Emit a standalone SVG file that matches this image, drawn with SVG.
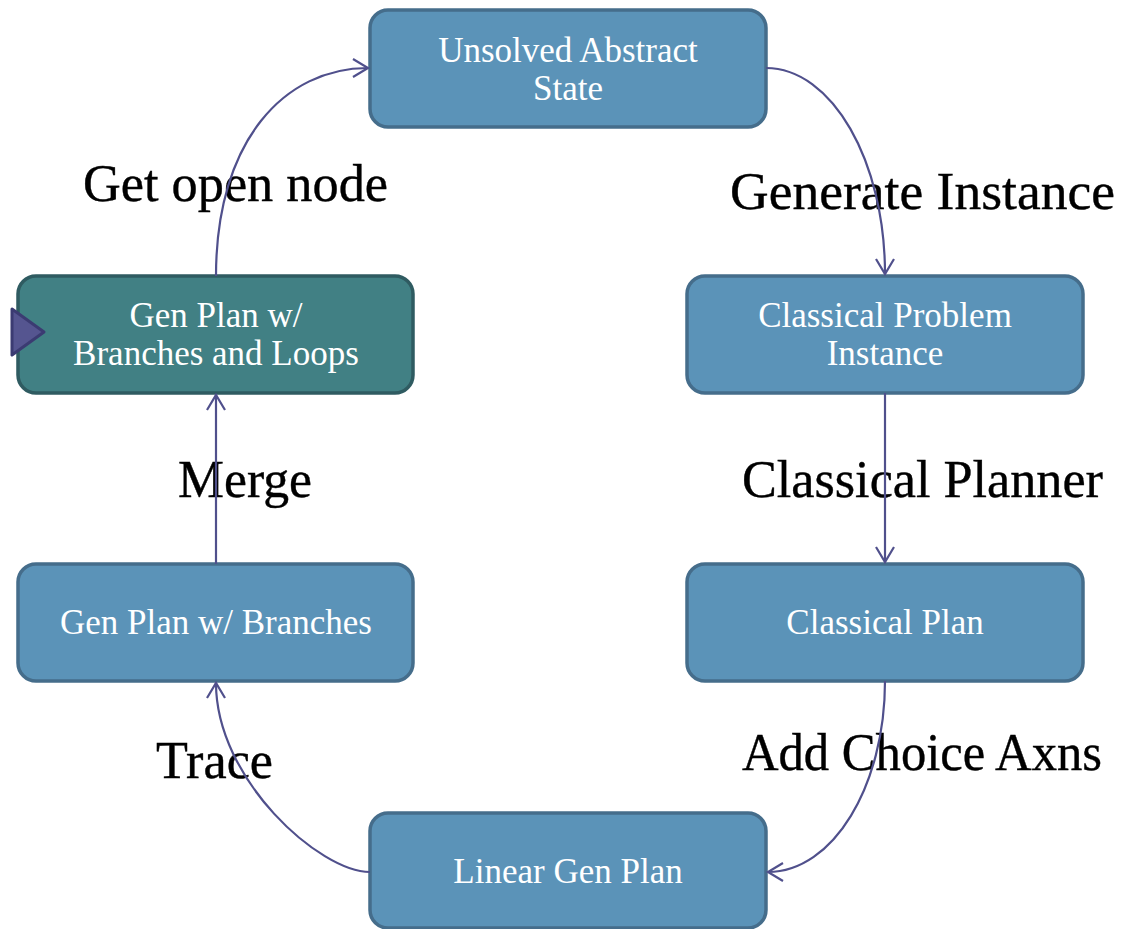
<svg xmlns="http://www.w3.org/2000/svg" width="1123" height="929" viewBox="0 0 1123 929">
  <defs>
    <style>
      .node rect { fill: #5b93b8; stroke: #456d8b; stroke-width: 3.5; }
      .node.active rect { fill: #418084; stroke: #2f5b61; }
      .node text { font-family: "Liberation Serif", "DejaVu Serif", serif; font-size: 35px; fill: #ffffff; text-anchor: middle; }
      .label { font-family: "Liberation Serif", "DejaVu Serif", serif; font-size: 52px; fill: #000000; stroke: #000000; stroke-width: 0.4; }
      .edge { fill: none; stroke: #50508c; stroke-width: 2.2; marker-end: url(#arrow); }
    </style>
    <marker id="arrow" markerUnits="userSpaceOnUse" markerWidth="30" markerHeight="30" refX="0" refY="0" viewBox="-20 -15 30 30" orient="auto" overflow="visible">
      <path d="M-15,-9 L0,0 L-15,9" fill="none" stroke="#50508c" stroke-width="2.2"/>
    </marker>
  </defs>

  <rect width="1123" height="929" fill="#ffffff"/>

  <!-- step labels -->
  <g id="labels">
    <text class="label" x="83" y="201" textLength="305" lengthAdjust="spacingAndGlyphs">Get open node</text>
    <text class="label" x="730" y="209" textLength="385" lengthAdjust="spacingAndGlyphs">Generate Instance</text>
    <text class="label" x="178" y="497" textLength="134" lengthAdjust="spacingAndGlyphs">Merge</text>
    <text class="label" x="742" y="497" textLength="361" lengthAdjust="spacingAndGlyphs">Classical Planner</text>
    <text class="label" x="156" y="778" textLength="117" lengthAdjust="spacingAndGlyphs">Trace</text>
    <text class="label" x="742" y="770" textLength="360" lengthAdjust="spacingAndGlyphs">Add Choice Axns</text>
  </g>

  <!-- nodes -->
  <g id="node-unsolved" class="node">
    <rect x="370" y="10" width="396" height="117" rx="18"/>
    <text x="568" y="62">Unsolved Abstract</text>
    <text x="568" y="100">State</text>
  </g>
  <g id="node-problem" class="node">
    <rect x="687" y="276" width="396" height="117" rx="18"/>
    <text x="885" y="327">Classical Problem</text>
    <text x="885" y="365">Instance</text>
  </g>
  <g id="node-classical-plan" class="node">
    <rect x="687" y="564" width="396" height="117" rx="18"/>
    <text x="885" y="634">Classical Plan</text>
  </g>
  <g id="node-linear" class="node">
    <rect x="370" y="813" width="396" height="115" rx="18"/>
    <text x="568" y="883">Linear Gen Plan</text>
  </g>
  <g id="node-branches" class="node">
    <rect x="18" y="564" width="395" height="117" rx="18"/>
    <text x="216" y="634">Gen Plan w/ Branches</text>
  </g>
  <g id="node-loops" class="node active">
    <rect x="18" y="276" width="395" height="117" rx="18"/>
    <text x="216" y="327">Gen Plan w/</text>
    <text x="216" y="365">Branches and Loops</text>
    <polygon points="12,309 44,332 12,355" fill="#555590" stroke="#3b3b72" stroke-width="3" stroke-linejoin="round"/>
  </g>

  <!-- connectors -->
  <g id="connectors">
    <path class="edge" d="M766,68 C832,68 885,161 885,274"/>
    <path class="edge" d="M885,393 L885,562"/>
    <path class="edge" d="M885,681 C885,786 833,872 768,872"/>
    <path class="edge" d="M370,872 C320,872 216,780 216,683"/>
    <path class="edge" d="M216,564 L216,395"/>
    <path class="edge" d="M216,276 C216,140 285,68 368,68"/>
  </g>
</svg>
